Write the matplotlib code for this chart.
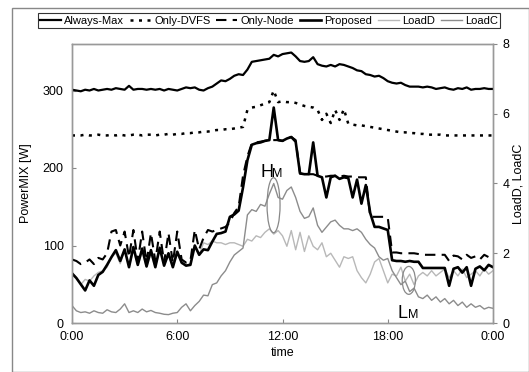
import numpy as np
import matplotlib
matplotlib.use("Agg")
import matplotlib.pyplot as plt
from matplotlib.patches import Ellipse, Rectangle

plt.rcParams['font.family'] = ['Liberation Sans', 'DejaVu Sans']

# time in hours, 15 min steps
t = np.arange(97) * 0.25

always_max = [301, 300, 299, 301, 300, 302, 300, 301, 302, 301, 303, 302, 301, 306, 301, 302,
              302, 301, 302, 301, 302, 300, 302, 301, 300, 302, 304, 303, 304, 301, 300, 303,
              305, 309, 313, 312, 315, 319, 321, 320, 327, 337, 338, 339, 340, 341, 346, 344,
              347, 348, 349, 344, 338, 337, 338, 343, 334, 332, 331, 333, 331, 334, 333, 331,
              329, 326, 325, 321, 320, 318, 319, 316, 312, 310, 309, 310, 307, 305, 305, 305,
              304, 305, 304, 302, 303, 304, 302, 301, 303, 302, 304, 301, 302, 302, 303, 302, 302]

only_dvfs = [242, 242, 242, 243, 242, 242, 243, 242, 242, 243, 242, 243, 242, 242, 243, 243,
             242, 243, 243, 242, 243, 243, 244, 243, 244, 244, 245, 245, 246, 246, 247, 247,
             248, 249, 249, 250, 250, 251, 252, 253, 275, 278, 279, 281, 283, 285, 300, 285,
             286, 285, 285, 284, 282, 280, 279, 278, 275, 262, 270, 258, 275, 262, 276, 257,
             256, 255, 255, 254, 253, 252, 251, 250, 249, 248, 247, 246, 246, 245, 245, 244,
             244, 243, 243, 243, 243, 242, 242, 242, 242, 242, 242, 242, 242, 242, 242, 242, 242]

only_node = [82, 80, 76, 78, 82, 76, 84, 82, 90, 118, 120, 100, 118, 85, 120, 80,
             118, 78, 116, 80, 118, 78, 116, 78, 118, 82, 78, 80, 120, 95, 110, 120,
             118, 120, 122, 124, 130, 142, 150, 190, 215, 232, 233, 234, 235, 236, 236, 236,
             235, 238, 240, 236, 193, 192, 192, 192, 190, 189, 189, 190, 190, 189, 190, 189,
             189, 188, 188, 188, 137, 137, 137, 137, 136, 91, 91, 90, 90, 90, 90, 89,
             88, 88, 88, 88, 88, 88, 80, 87, 86, 82, 88, 84, 86, 82, 88, 85, 88]

proposed = [64, 58, 50, 42, 55, 48, 62, 66, 75, 85, 94, 80, 95, 72, 98, 75,
            96, 73, 94, 72, 97, 74, 90, 72, 92, 78, 74, 75, 100, 88, 95, 94,
            105, 115, 116, 118, 137, 140, 145, 175, 210, 230, 232, 233, 235, 236, 278, 236,
            235, 238, 240, 234, 193, 192, 192, 233, 190, 188, 162, 188, 190, 186, 188, 187,
            162, 185, 154, 178, 142, 124, 124, 122, 120, 81, 80, 80, 79, 80, 79, 79,
            71, 71, 71, 71, 71, 71, 48, 70, 72, 65, 72, 48, 70, 73, 68, 75, 72]

load_d = [1.45, 1.3, 1.1, 1.25, 1.2, 1.35, 1.45, 1.5, 1.6, 1.9, 2.0, 1.7, 2.1, 1.6, 2.1, 1.65,
          2.05, 1.6, 2.0, 1.6, 2.1, 1.65, 1.95, 1.6, 2.0, 1.7, 1.65, 1.7, 2.2, 1.95, 2.3, 2.25,
          2.35, 2.3, 2.3, 2.25, 2.3, 2.3, 2.25, 2.2, 2.4, 2.35, 2.5, 2.45, 2.6, 2.7, 2.55, 2.65,
          2.5, 2.2, 2.65, 2.1, 2.6, 2.05, 2.5, 2.2, 2.1, 2.3, 1.9, 2.0, 1.8, 1.6, 1.9, 1.85,
          1.9, 1.5, 1.3, 1.15, 1.4, 1.75, 1.85, 1.5, 1.15, 1.4, 1.35, 1.6, 1.2, 1.4, 1.1, 1.35,
          1.45, 1.35, 1.5, 1.35, 1.45, 1.55, 1.3, 1.5, 1.35, 1.55, 1.3, 1.4, 1.5, 1.35, 1.55, 1.4, 1.5]

load_c = [0.5, 0.35, 0.3, 0.32, 0.28, 0.35, 0.3, 0.28, 0.38, 0.32, 0.3, 0.4, 0.55, 0.3, 0.35, 0.3,
          0.4, 0.32, 0.36, 0.3, 0.28, 0.25, 0.24, 0.28, 0.3, 0.45, 0.55, 0.35, 0.5, 0.62, 0.8, 0.78,
          1.1, 1.15, 1.35, 1.5, 1.75, 1.95, 2.05, 2.15, 3.1, 3.25, 3.2, 3.4, 3.35, 3.7, 4.0, 3.6,
          3.55, 3.8, 3.9, 3.6, 3.2, 3.0, 3.05, 3.3, 2.8, 2.6, 2.75, 2.9, 2.95, 2.8, 2.7, 2.7,
          2.65, 2.7, 2.6, 2.4, 2.25, 2.15, 1.9, 1.8, 1.85, 1.5, 1.3, 1.1, 1.2, 0.9, 1.0, 0.75,
          0.7, 0.8, 0.65, 0.75, 0.6, 0.7, 0.55, 0.65, 0.5, 0.6, 0.45, 0.55, 0.45, 0.5, 0.4, 0.45, 0.42]

xticks = [0, 6, 12, 18, 24]
xtick_labels = ['0:00', '6:00', '12:00', '18:00', '0:00']

fig = plt.figure(figsize=(5.29, 3.72), dpi=100)
ax = fig.add_axes([72 / 529, 49 / 372, 421 / 529, 279 / 372])
ax2 = ax.twinx()

# load curves (right axis), drawn under the power curves
ax2.plot(t, load_d, color='#b8b8b8', lw=1.0, label='LoadD')
ax2.plot(t, load_c, color='#8c8c8c', lw=1.0, label='LoadC')
ax.set_zorder(ax2.get_zorder() + 1)
ax.patch.set_visible(False)

ax.plot(t, always_max, color='black', lw=1.6, label='Always-Max')
ax.plot(t, only_dvfs, color='black', lw=1.8, linestyle=(0, (1.2, 2.2)), label='Only-DVFS')
ax.plot(t, only_node, color='black', lw=1.5, linestyle=(0, (5, 3)), label='Only-Node')
ax.plot(t, proposed, color='black', lw=1.9, label='Proposed')

ax.set_xlim(0, 24)
ax.set_ylim(0, 360)
ax2.set_ylim(0, 8)
ax.set_xticks(xticks)
ax.set_xticklabels(xtick_labels)
ax.set_yticks([0, 100, 200, 300])
ax2.set_yticks([0, 2, 4, 6, 8])

ax.tick_params(axis='both', direction='in', length=3, labelsize=9, color='#888888', pad=6)
ax2.tick_params(axis='y', direction='out', length=3, labelsize=9, color='#888888', pad=4)
for a in (ax, ax2):
    for s in a.spines.values():
        s.set_color('#999999')
        s.set_linewidth(1.0)

ax.set_xlabel('time', fontsize=9, labelpad=3)
ax.set_ylabel('PowerMIX [W]', fontsize=9, labelpad=8)
ax2.set_ylabel('LoadD, LoadC', fontsize=9, labelpad=2)

# marked peak / low regions
ax.add_patch(Ellipse((11.49, 152), 0.74, 71, fill=False, edgecolor='#888888', lw=0.9))
ax.add_patch(Ellipse((19.2, 55), 0.75, 36, fill=False, edgecolor='#888888', lw=0.9))
ax.text(10.75, 188, 'H', fontsize=13, va='baseline', ha='left')
ax.text(11.42, 188, 'M', fontsize=9, va='baseline', ha='left')
ax.text(18.55, 6, 'L', fontsize=13, va='baseline', ha='left')
ax.text(19.15, 6, 'M', fontsize=9, va='baseline', ha='left')

h1, l1 = ax.get_legend_handles_labels()
h2, l2 = ax2.get_legend_handles_labels()
leg = fig.legend(h1 + h2, l1 + l2, ncol=6, loc='center', bbox_to_anchor=(269 / 529, 1 - 20.5 / 372),
                 fontsize=8, frameon=True, fancybox=False, handlelength=1.9, handletextpad=0.3,
                 columnspacing=0.5, borderpad=0.2, borderaxespad=0)
leg.get_frame().set_edgecolor('black')
leg.get_frame().set_linewidth(0.8)

# outer frame of the figure
fig.patches.append(Rectangle((12 / 529, 0), 1 - 12.5 / 529, 1 - 8 / 372, transform=fig.transFigure,
                             fill=False, edgecolor='#888888', lw=1.0))

fig.savefig('out.png', dpi=100)
